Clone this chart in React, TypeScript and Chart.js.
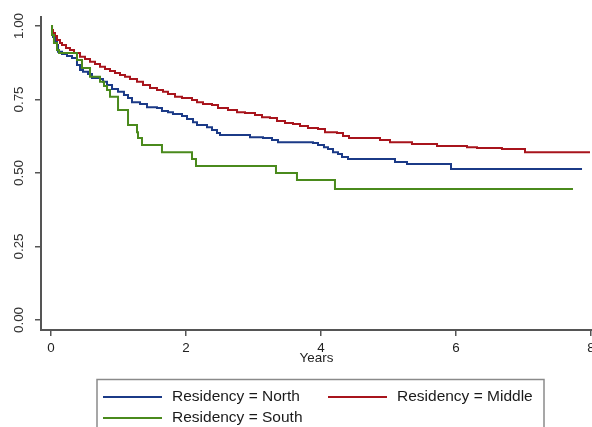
import React, { useEffect, useRef } from "react";
import { Chart, registerables } from "chart.js";

Chart.register(...registerables);

const xTickValues = [0, 2, 4, 6, 8];
const yTickValues = [0, 0.25, 0.5, 0.75, 1];
const axisTitle = "Years";
const seriesLabels = ["Residency = North", "Residency = Middle", "Residency = South"];
const seriesColors = ["#1b3a87", "#a8141c", "#4a8a1c"];

const northTimes = [0, 0.015, 0.030, 0.059, 0.089, 0.104, 0.163, 0.237, 0.311, 0.385, 0.430, 0.474, 0.548, 0.607, 0.726, 0.770, 0.830, 0.904, 0.993, 1.081, 1.141, 1.200, 1.319, 1.422, 1.570, 1.644, 1.733, 1.807, 1.941, 2.015, 2.104, 2.163, 2.311, 2.385, 2.459, 2.504, 2.948, 3.141, 3.274, 3.363, 3.881, 3.956, 4.044, 4.104, 4.178, 4.252, 4.311, 4.400, 5.096, 5.274, 5.926, 7.867];
const northSurv = [1, 0.980, 0.963, 0.949, 0.935, 0.912, 0.905, 0.898, 0.891, 0.867, 0.850, 0.844, 0.837, 0.823, 0.820, 0.810, 0.799, 0.786, 0.776, 0.765, 0.755, 0.741, 0.735, 0.724, 0.721, 0.711, 0.707, 0.701, 0.694, 0.684, 0.673, 0.663, 0.656, 0.646, 0.636, 0.629, 0.622, 0.619, 0.612, 0.605, 0.602, 0.595, 0.588, 0.582, 0.571, 0.565, 0.554, 0.548, 0.537, 0.531, 0.514, 0.514];

const middleTimes = [0, 0.015, 0.030, 0.059, 0.089, 0.133, 0.163, 0.222, 0.281, 0.341, 0.430, 0.504, 0.578, 0.652, 0.726, 0.800, 0.874, 0.948, 1.022, 1.096, 1.170, 1.274, 1.363, 1.467, 1.570, 1.659, 1.733, 1.837, 1.941, 2.089, 2.163, 2.252, 2.385, 2.474, 2.622, 2.756, 2.874, 3.022, 3.126, 3.244, 3.348, 3.467, 3.585, 3.689, 3.807, 3.956, 4.059, 4.237, 4.326, 4.415, 4.874, 5.022, 5.348, 5.719, 6.163, 6.311, 6.681, 7.022, 7.985];
const middleSurv = [1, 0.986, 0.976, 0.966, 0.952, 0.942, 0.935, 0.925, 0.918, 0.908, 0.895, 0.888, 0.878, 0.871, 0.861, 0.854, 0.847, 0.840, 0.833, 0.827, 0.820, 0.810, 0.799, 0.789, 0.782, 0.776, 0.769, 0.759, 0.755, 0.748, 0.741, 0.735, 0.731, 0.721, 0.714, 0.707, 0.704, 0.697, 0.690, 0.687, 0.677, 0.670, 0.667, 0.660, 0.653, 0.650, 0.639, 0.636, 0.626, 0.619, 0.612, 0.605, 0.599, 0.592, 0.588, 0.585, 0.582, 0.571, 0.571];

const southTimes = [0, 0.015, 0.044, 0.089, 0.119, 0.385, 0.459, 0.578, 0.726, 0.785, 0.830, 0.874, 0.993, 1.141, 1.274, 1.289, 1.348, 1.644, 2.089, 2.148, 3.333, 3.644, 4.207, 7.733];
const southSurv = [1, 0.969, 0.942, 0.918, 0.908, 0.884, 0.857, 0.827, 0.810, 0.796, 0.782, 0.759, 0.714, 0.663, 0.639, 0.619, 0.595, 0.571, 0.548, 0.524, 0.500, 0.476, 0.446, 0.446];

const toPoints = (t: number[], s: number[]) => t.map((x, i) => ({ x, y: s[i] }));

const FONT = "'Liberation Sans', Arial, sans-serif";

const legendBoxPlugin = {
  id: "legendBox",
  afterDraw(chart: any) {
    const ctx = chart.ctx;
    const ds = chart.data.datasets;
    ctx.save();
    ctx.fillStyle = "#ffffff";
    ctx.fillRect(97, 379, 447, 60);
    ctx.strokeStyle = "#8a8a8a";
    ctx.lineWidth = 1.5;
    ctx.strokeRect(97, 379.5, 447, 60);
    const slots = [
      { lx: 103, y: 397 },
      { lx: 328, y: 397 },
      { lx: 103, y: 418 },
    ];
    ctx.font = `15.5px ${FONT}`;
    ctx.textBaseline = "middle";
    ctx.textAlign = "left";
    ds.forEach((d: any, i: number) => {
      const s = slots[i];
      ctx.strokeStyle = d.borderColor;
      ctx.lineWidth = 2;
      ctx.beginPath();
      ctx.moveTo(s.lx, s.y);
      ctx.lineTo(s.lx + 59, s.y);
      ctx.stroke();
      ctx.fillStyle = "#1a1a1a";
      ctx.fillText(d.label, s.lx + 69, s.y);
    });
    ctx.restore();
  },
};

export default function App() {
  const ref = useRef<HTMLCanvasElement>(null);
  useEffect(() => {
    if (!ref.current) return;
    const series = [
      { t: northTimes, s: northSurv },
      { t: middleTimes, s: middleSurv },
      { t: southTimes, s: southSurv },
    ];
    const chart = new Chart(ref.current, {
      type: "line",
      data: {
        datasets: series.map((sr, i) => ({
          label: seriesLabels[i],
          data: toPoints(sr.t, sr.s),
          borderColor: seriesColors[i],
          backgroundColor: seriesColors[i],
          borderWidth: 2,
          pointRadius: 0,
          stepped: true,
          fill: false,
          order: 2 - i,
        })),
      },
      options: {
        animation: false,
        responsive: false,
        layout: { padding: { left: 0, top: 17, right: 0, bottom: 57 } },
        plugins: { legend: { display: false }, tooltip: { enabled: false } },
        scales: {
          x: {
            type: "linear",
            min: -10 / 67.5,
            max: 8 + 1 / 67.5,
            afterBuildTicks: (s: any) => {
              s.ticks = xTickValues.map((v) => ({ value: v }));
            },
            afterFit: (s: any) => {
              s.height = 40;
              s.paddingLeft = 0;
              s.paddingRight = 0;
            },
            grid: { drawOnChartArea: false, drawTicks: true, tickLength: 6, color: "#555", lineWidth: 1.5 },
            border: { display: true, color: "#555", width: 2 },
            ticks: {
              padding: 4,
              color: "#222",
              font: { family: FONT, size: 13.4 },
              maxRotation: 0,
              minRotation: 0,
              autoSkip: false,
              callback: (v: any) => String(v),
            },
            title: {
              display: true,
              text: axisTitle,
              color: "#222",
              font: { family: FONT, size: 13.4 },
              padding: { top: 0, bottom: 4 },
            },
          },
          y: {
            type: "linear",
            min: -10 / 294,
            max: 1 + 9 / 294,
            afterBuildTicks: (s: any) => {
              s.ticks = yTickValues.map((v) => ({ value: v }));
            },
            afterFit: (s: any) => {
              s.width = 41;
              s.paddingTop = 0;
              s.paddingBottom = 0;
            },
            grid: { drawOnChartArea: false, drawTicks: true, tickLength: 6, color: "#555", lineWidth: 1.5 },
            border: { display: true, color: "#555", width: 2 },
            ticks: {
              padding: 2.4,
              color: "#333",
              font: { family: FONT, size: 13.4 },
              minRotation: 90,
              maxRotation: 90,
              crossAlign: "center",
              autoSkip: false,
              callback: (v: any) => Number(v).toFixed(2),
            },
          },
        },
      },
      plugins: [legendBoxPlugin],
    });
    return () => chart.destroy();
  }, []);
  return (
    <div style={{ position: "fixed", left: 0, top: 0, width: 592, height: 427, background: "#fff" }}>
      <canvas ref={ref} width={592} height={427} style={{ display: "block" }} />
    </div>
  );
}
